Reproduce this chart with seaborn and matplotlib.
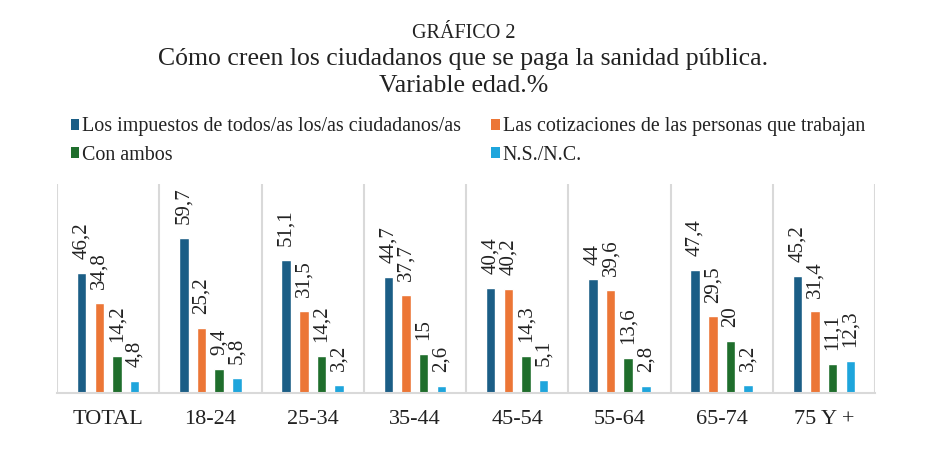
import matplotlib
matplotlib.use("Agg")
import matplotlib.pyplot as plt
import seaborn as sns
import pandas as pd
from matplotlib.patches import Patch

categories = ["TOTAL", "18-24", "25-34", "35-44", "45-54", "55-64", "65-74", "75 Y +"]
series_names = [
    "Los impuestos de todos/as los/as ciudadanos/as",
    "Las cotizaciones de las personas que trabajan",
    "Con ambos",
    "N.S./N.C.",
]
impuestos = [46.2, 59.7, 51.1, 44.7, 40.4, 44.0, 47.4, 45.2]
cotizaciones = [34.8, 25.2, 31.5, 37.7, 40.2, 39.6, 29.5, 31.4]
ambos = [14.2, 9.4, 14.2, 15.0, 14.3, 13.6, 20.0, 11.1]
nsnc = [4.8, 5.8, 3.2, 2.6, 5.1, 2.8, 3.2, 12.3]
colors = ["#1B5E86", "#EC7636", "#1F6E2C", "#1EA5DC"]

rows = []
for name, vals in zip(series_names, [impuestos, cotizaciones, ambos, nsnc]):
    for c, v in zip(categories, vals):
        rows.append({"grupo": c, "serie": name, "valor": v})
df = pd.DataFrame(rows)

sns.set_theme(style="white")
plt.rcParams["font.family"] = ["Liberation Serif", "DejaVu Serif"]

fig = plt.figure(figsize=(9.27, 4.5), dpi=100)
ax = fig.add_axes([57 / 927, 57 / 450, (875 - 57) / 927, (393 - 184) / 450])

sns.barplot(data=df, x="grupo", y="valor", hue="serie", order=categories,
            hue_order=series_names, palette=colors, width=0.69, gap=0.46,
            saturation=1, legend=False, ax=ax, errorbar=None)

for cont in ax.containers:
    labels = [f"{b.get_height():g}".replace(".", ",") for b in cont]
    ax.bar_label(cont, labels=labels, rotation=90, padding=10, fontsize=15,
                 color="#222222")

ax.set_ylim(0, 80.5)
ax.set_xlim(-0.5, len(categories) - 0.5)
for i in range(len(categories) + 1):
    ax.axvline(i - 0.5, color="#D9D9D9", lw=1.5, zorder=0)
for s in ["top", "left", "right"]:
    ax.spines[s].set_visible(False)
ax.spines["bottom"].set_color("#D9D9D9")
ax.spines["bottom"].set_linewidth(1.5)
ax.set_yticks([])
ax.set_xlabel("")
ax.set_ylabel("")
ax.tick_params(axis="x", length=0, pad=12, labelsize=16, colors="#222222")

fig.text(0.5, 1 - 38 / 450, "GRÁFICO 2", ha="center", va="baseline", fontsize=14.5, color="#222222")
fig.text(0.5, 1 - 65 / 450, "Cómo creen los ciudadanos que se paga la sanidad pública.",
         ha="center", va="baseline", fontsize=18.5, color="#222222")
fig.text(0.5, 1 - 92 / 450, "Variable edad.%", ha="center", va="baseline", fontsize=18.5, color="#222222")

handles = [Patch(facecolor=c, edgecolor="none") for c in colors]
order = [0, 2, 1, 3]
fig.legend([handles[i] for i in order], [series_names[i] for i in order],
           ncol=2, loc="center left", bbox_to_anchor=(71 / 927, 1 - 141 / 450),
           frameon=False, fontsize=14.4, handlelength=0.42, handleheight=0.42,
           handletextpad=0.15, columnspacing=1.5, labelspacing=0.45,
           borderpad=0, borderaxespad=0, labelcolor="#222222")

fig.savefig("out.png", dpi=100, facecolor="white")
